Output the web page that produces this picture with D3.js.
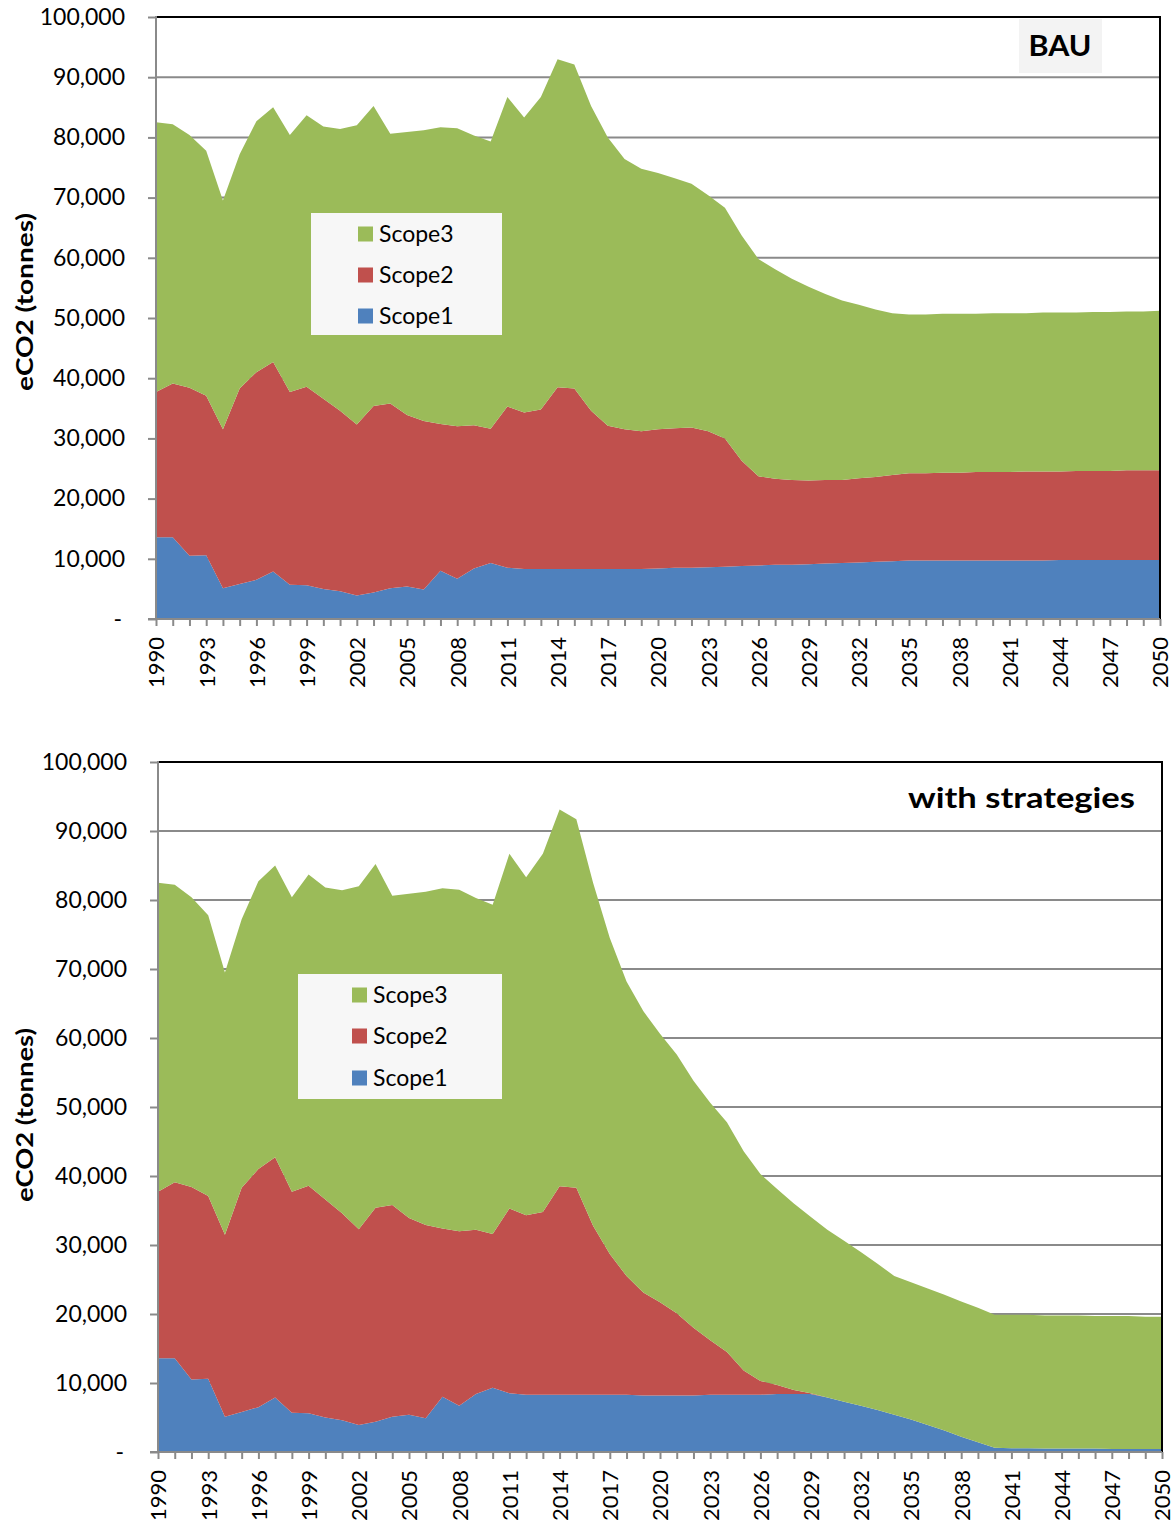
<!DOCTYPE html>
<html><head><meta charset="utf-8">
<script src="https://cdn.jsdelivr.net/npm/d3@7"></script>
<style>body{margin:0;background:#fff} svg{display:block;font-family:Lato,"Open Sans",sans-serif}</style>
</head><body><svg id="c" width="1176" height="1526"></svg>
<script>
const years = [1990,1991,1992,1993,1994,1995,1996,1997,1998,1999,2000,2001,2002,2003,2004,2005,2006,2007,2008,2009,
  2010,2011,2012,2013,2014,2015,2016,2017,2018,2019,2020,2021,2022,2023,2024,2025,2026,2027,2028,2029,
  2030,2031,2032,2033,2034,2035,2036,2037,2038,2039,2040,2041,2042,2043,2044,2045,2046,2047,2048,2049,2050];
const tickYears = [1990,1993,1996,1999,2002,2005,2008,2011,2014,2017,2020,2023,2026,2029,2032,2035,2038,2041,2044,2047,2050];
const yTicks = [0,10000,20000,30000,40000,50000,60000,70000,80000,90000,100000];
const seriesNames = ["Scope1","Scope2","Scope3"];
const seriesColors = ["#4F81BD","#C0504D","#9BBB59"];
const panelTitles = ["BAU","with strategies"];
const yTitle = "eCO2 (tonnes)";

const bauScope1 = [13600,13600,10500,10600,5100,5800,6500,7900,5700,5600,5000,4600,3900,4400,5100,5400,4900,8000,6700,8400,
  9300,8500,8300,8300,8300,8300,8300,8300,8300,8300,8400,8500,8500,8600,8700,8800,8900,9000,9000,9100,
  9200,9300,9400,9500,9600,9700,9700,9700,9700,9700,9700,9700,9700,9700,9800,9800,9800,9800,9800,9800,9800];
const bauScope2 = [24100,25500,27900,26500,26400,32500,34500,34800,32000,33000,31600,30000,28400,31000,30700,28500,28000,24400,25300,23800,
  22300,26800,26000,26500,30200,30000,26300,23800,23200,22900,23100,23200,23300,22600,21300,17500,14800,14300,14100,13900,
  13900,13800,14000,14100,14300,14500,14500,14600,14600,14700,14700,14700,14800,14800,14700,14800,14800,14800,14900,14900,14900];
const bauScope3 = [44800,43100,42000,40700,38000,38900,41700,42300,42700,45100,45200,46800,49700,49800,44800,47000,48300,49300,49500,48100,
  47700,51400,49000,51900,54500,53800,50600,47900,44900,43600,42600,41500,40500,39200,38300,37400,36100,34800,33400,32200,
  30900,29800,28800,27800,26900,26400,26400,26400,26400,26300,26400,26400,26300,26400,26400,26300,26400,26400,26400,26400,26500];

const stratScope1 = [13600,13600,10500,10600,5100,5800,6500,7900,5700,5600,5000,4600,3900,4400,5100,5400,4900,8000,6700,8400,
  9300,8500,8300,8300,8300,8300,8300,8300,8300,8200,8200,8200,8200,8300,8300,8300,8300,8400,8400,8400,
  7900,7300,6700,6100,5400,4700,3900,3100,2200,1400,600,550,550,500,500,500,500,450,450,450,450];
const stratScope2 = [24100,25500,27900,26500,26400,32500,34500,34800,32000,33000,31600,30000,28400,31000,30700,28500,28000,24400,25300,23800,
  22300,26800,26000,26500,30200,30000,24500,20400,17200,14900,13500,11900,9800,7900,6200,3500,2000,1300,600,100,
  0,0,0,0,0,0,0,0,0,0,0,0,0,0,0,0,0,0,0,0,0];
const stratScope3 = [44800,43100,42000,40700,38000,38900,41700,42300,42700,45100,45200,46800,49700,49800,44800,47000,48300,49300,49500,48100,
  47700,51400,49000,51900,54600,53400,49700,45800,42700,40800,38900,37500,35800,34400,33300,31800,30000,28400,27000,25600,
  24300,23300,22300,21200,20100,19900,19800,19700,19600,19500,19300,19350,19350,19300,19300,19300,19200,19250,19250,19150,19150];

const panels = [
  {title: panelTitles[0], series:[bauScope1,bauScope2,bauScope3],
   left:156, right:1160, top:17, bottom:619, yTitleY:302, yTitleLen:178, labelRight:125,
   legend:{x:311,y:213,w:191,h:122,sw:358,tx:379,rows:[316,275,234]},
   titleBox:{x:1019,y:19,w:83,h:54}, titleX:1060, titleY:56, titleAnchor:"middle", titleLen:63, titleSize:28},
  {title: panelTitles[1], series:[stratScope1,stratScope2,stratScope3],
   left:158, right:1162, top:762, bottom:1452, yTitleY:1115, yTitleLen:174, labelRight:127,
   legend:{x:298,y:974,w:204,h:125,sw:352,tx:373,rows:[1078,1036,995]},
   titleBox:null, titleX:1135, titleY:808, titleAnchor:"end", titleLen:227, titleSize:29}
];

const svg = d3.select("#c");
svg.append("rect").attr("width",1176).attr("height",1526).attr("fill","#fff");
const gridColor = "#8a8a8a";

panels.forEach(p => {
  const x = d3.scaleLinear().domain([years[0], years[years.length-1]]).range([p.left, p.right]);
  const y = d3.scaleLinear().domain([0, 100000]).range([p.bottom, p.top]);
  const g = svg.append("g");

  // gridlines
  g.append("g").selectAll("line").data(yTicks.filter(t => t > 0 && t < 100000)).join("line")
    .attr("x1", p.left).attr("x2", p.right).attr("y1", d => y(d)).attr("y2", d => y(d))
    .attr("stroke", gridColor).attr("stroke-width", 2);

  // stacked areas
  const rows = years.map((yr, i) => {
    const o = {year: yr};
    seriesNames.forEach((n, k) => o[n] = p.series[k][i]);
    return o;
  });
  const stack = d3.stack().keys(seriesNames)(rows);
  const area = d3.area().x(d => x(d.data.year)).y0(d => y(d[0])).y1(d => y(d[1]));
  g.append("g").selectAll("path").data(stack).join("path")
    .attr("d", area).attr("fill", (d, k) => seriesColors[k]);

  // top & right border
  g.append("path").attr("d", `M${p.left},${y(100000)}H${p.right}V${p.bottom}`)
    .attr("fill","none").attr("stroke","#000").attr("stroke-width",2);

  // y axis
  const ya = d3.axisLeft(y).tickValues(yTicks).tickSize(8).tickPadding(p.left - p.labelRight - 8)
    .tickFormat(d => d === 0 ? "-" : d3.format(",")(d));
  const yg = g.append("g").attr("transform", `translate(${p.left},0)`).call(ya);
  yg.select(".domain").remove();
  yg.selectAll(".tick line").attr("stroke", gridColor).attr("stroke-width", 2);
  yg.selectAll(".tick text").attr("fill","#000").style("font-size","23px").style("font-family","Lato");
  yg.selectAll(".tick text").filter(d => d === 0).attr("dx", -3);

  // x axis minor ticks (every year)
  const xa = d3.axisBottom(x).tickValues(years).tickSize(7).tickFormat("");
  const xg = g.append("g").attr("transform", `translate(0,${p.bottom})`).call(xa);
  xg.select(".domain").remove();
  xg.selectAll(".tick line").attr("stroke", gridColor).attr("stroke-width", 2);

  // x labels
  const xl = d3.axisBottom(x).tickValues(tickYears).tickSize(0).tickFormat(d3.format("d"));
  const xlg = g.append("g").attr("transform", `translate(0,${p.bottom})`).call(xl);
  xlg.select(".domain").remove();
  xlg.selectAll(".tick text")
    .attr("transform", "rotate(-90)").attr("x", -18).attr("y", 0).attr("dy", "0.36em")
    .attr("text-anchor", "end").attr("fill","#000")
    .style("font-size","22px").style("font-family","Lato");

  // axis lines
  g.append("line").attr("x1", p.left).attr("x2", p.left).attr("y1", y(100000) - 1).attr("y2", p.bottom + 1)
    .attr("stroke", gridColor).attr("stroke-width", 2);
  g.append("line").attr("x1", p.left - 8).attr("x2", p.right).attr("y1", p.bottom).attr("y2", p.bottom)
    .attr("stroke", gridColor).attr("stroke-width", 2);

  // y title
  g.append("text").attr("transform", `translate(33,${p.yTitleY}) rotate(-90)`)
    .attr("text-anchor","middle").attr("font-weight","bold").style("font-size","23px")
    .attr("textLength", p.yTitleLen).attr("lengthAdjust","spacingAndGlyphs")
    .text(yTitle);

  // legend
  const L = p.legend;
  g.append("rect").attr("x", L.x).attr("y", L.y).attr("width", L.w).attr("height", L.h).attr("fill", "#f7f7f7");
  seriesNames.forEach((n, k) => {
    g.append("rect").attr("x", L.sw).attr("y", L.rows[k] - 7.5).attr("width", 15).attr("height", 15).attr("fill", seriesColors[k]);
    g.append("text").attr("x", L.tx).attr("y", L.rows[k]).attr("dy","0.35em")
      .style("font-size","23px").text(n);
  });

  // title
  if (p.titleBox) {
    g.append("rect").attr("x", p.titleBox.x).attr("y", p.titleBox.y).attr("width", p.titleBox.w).attr("height", p.titleBox.h).attr("fill","#f3f3f3");
  }
  g.append("text").attr("x", p.titleX).attr("y", p.titleY).attr("text-anchor", p.titleAnchor)
    .attr("font-weight","bold").style("font-size", p.titleSize + "px")
    .attr("textLength", p.titleLen).attr("lengthAdjust","spacingAndGlyphs")
    .text(p.title);
});
</script>
</body></html>
